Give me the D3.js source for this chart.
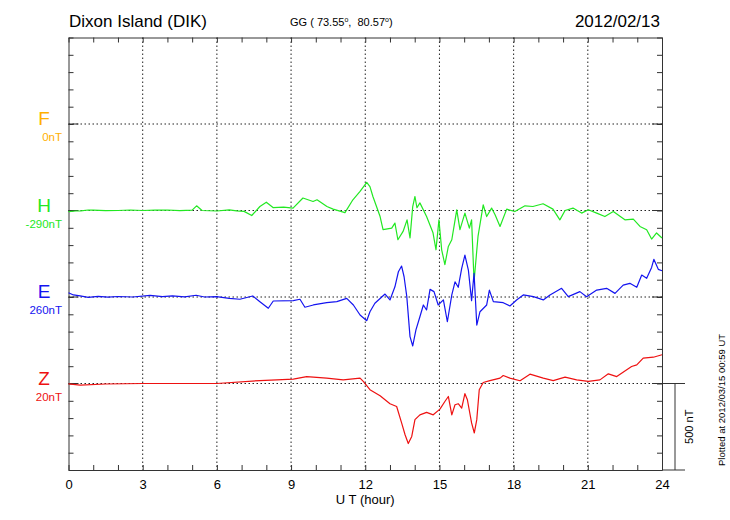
<!DOCTYPE html>
<html>
<head>
<meta charset="utf-8">
<script src="https://cdn.jsdelivr.net/npm/d3@7"></script>
<style>
  body { margin: 0; background: #fff; }
  svg { font-family: "Liberation Sans", Arial, sans-serif; }
</style>
</head>
<body>
<div id="chart"></div>
<script>
// Componentes y etiquetas de la línea base
var components = ["F", "H", "E", "Z"];
var baseLabels = ["0nT", "-290nT", "260nT", "20nT"];
var compColors = ["#ffb000", "#22e822", "#1414f0", "#ee1111"];
var baseOffsets = [2000, 1500, 1000, 500];   // posición de cada componente (nT)
var hourTicks = [0, 3, 6, 9, 12, 15, 18, 21, 24];

// Datos: [hora UT, desviación nT]
var hTrace = [[0,-6],[0.3,-3],[0.5,-2],[0.8,3],[1,2],[1.5,-1],[2,0],[2.5,3],[3,0],[3.5,2],[4,3],[4.5,-1],
  [5.0,2],[5.18,27],[5.4,0],[6,-3],[6.5,4],[6.8,-2],[7.1,-5],[7.41,-29],
  [7.74,23],[8.0,48],[8.27,17],[8.7,20],[9.08,14],[9.48,72],[9.89,52],[10.05,62],[10.45,23],[10.7,8],
  [11.18,-12],[11.5,62],[11.79,110],[12.06,162],[12.19,138],[12.31,81],[12.6,-35],[12.72,-111],
  [13.07,-102],[13.2,-73],[13.32,-169],[13.53,-121],[13.69,-54],[13.81,-158],[13.92,23],[14.01,81],
  [14.09,16],[14.21,44],[14.48,-35],[14.74,-129],[14.86,-227],[14.98,-54],[15.09,-227],[15.22,-313],
  [15.36,-208],[15.5,-169],[15.7,4],[15.83,-111],[16.03,-15],[16.21,-102],[16.3,-54],[16.4,-410],
  [16.56,-150],[16.77,33],[16.91,-35],[17.11,14],[17.25,-25],[17.45,-92],[17.72,8],[18.05,-6],
  [18.46,27],[18.78,23],[19.19,39],[19.59,8],[19.87,-54],[20.08,0],[20.4,14],[20.75,-15],[21.02,4],
  [21.36,-15],[21.69,-35],[22.03,-6],[22.5,-54],[22.84,-50],[23.11,-92],[23.38,-111],[23.58,-165],
  [23.78,-130],[24,-159]];

var eTrace = [[0,25],[0.2,12],[0.47,6],[0.8,-2],[1.2,4],[1.6,-1],[2,3],[2.6,0],[3.3,9],[3.8,2],[4.2,6],
  [4.7,1],[5.16,10],[5.5,0],[5.99,2],[6.5,-8],[6.93,-13],[7.45,6],
  [7.74,-27],[8.08,-65],[8.28,-23],[9.09,-21],[9.36,-13],[9.56,-59],[9.9,-46],[10.44,-33],[10.85,-27],
  [11.25,-8],[11.52,-46],[11.79,-104],[12.06,-137],[12.19,-85],[12.39,-36],[12.8,17],[13.0,-17],
  [13.2,59],[13.34,146],[13.47,179],[13.57,117],[13.68,2],[13.81,-229],[13.92,-283],[14.05,-190],
  [14.21,-114],[14.35,-46],[14.48,-75],[14.62,44],[14.78,31],[14.95,-46],[15.16,-17],[15.32,-143],
  [15.5,12],[15.63,88],[15.76,56],[15.9,166],[16.03,242],[16.17,156],[16.3,-21],[16.4,137],[16.51,-162],
  [16.64,-85],[16.91,-46],[17.02,40],[17.18,-27],[17.58,-33],[17.85,-52],[18.12,-17],[18.39,12],
  [18.8,2],[19.2,-17],[19.47,12],[19.94,50],[20.21,2],[20.68,31],[20.95,2],[21.36,40],[21.76,50],
  [22.1,21],[22.43,69],[22.7,79],[22.98,56],[23.18,127],[23.38,108],[23.58,171],[23.67,218],
  [23.85,160],[24,152]];

var zTrace = [[0,-2],[0.47,-9],[1.5,-3],[3,0],[6,0],[7.74,17],[9.09,25],[9.63,40],[10.44,31],[11.11,21],
  [11.79,31],[11.92,12],[12.19,-36],[12.6,-71],[13.0,-117],[13.27,-133],[13.47,-228],[13.61,-296],
  [13.74,-347],[13.88,-306],[14.01,-209],[14.21,-181],[14.48,-167],[14.75,-181],[15.02,-148],
  [15.22,-104],[15.36,-75],[15.5,-181],[15.63,-123],[15.76,-117],[15.9,-142],[16.03,-59],[16.13,-94],
  [16.3,-228],[16.41,-286],[16.51,-209],[16.61,-36],[16.77,6],[17.04,17],[17.45,31],[17.58,46],
  [17.85,31],[18.26,16],[18.66,54],[19.2,31],[19.6,17],[20.08,37],[20.55,21],[21.02,12],[21.49,21],
  [21.83,56],[22.17,40],[22.77,98],[22.98,108],[23.24,147],[23.65,152],[24,166]];

var traces = [null, hTrace, eTrace, zTrace];

var width = 730, height = 520;
var svg = d3.select("#chart").append("svg")
    .attr("width", width)
    .attr("height", height);

var x = d3.scaleLinear().domain([0, 24]).range([68.5, 662]);
var y = d3.scaleLinear().domain([0, 2500]).range([470, 37.5]);

// Rejilla punteada vertical (cada 3 horas)
svg.append("g").selectAll("line")
    .data(hourTicks.slice(1, -1))
    .enter().append("line")
    .attr("x1", d => x(d)).attr("x2", d => x(d))
    .attr("y1", y(2500)).attr("y2", y(0))
    .attr("stroke", "#222").attr("stroke-width", 1)
    .attr("stroke-dasharray", "1.5,2.5");

// Líneas base punteadas
svg.append("g").selectAll("line")
    .data(baseOffsets)
    .enter().append("line")
    .attr("x1", x(0)).attr("x2", x(24))
    .attr("y1", d => y(d)).attr("y2", d => y(d))
    .attr("stroke", "#222").attr("stroke-width", 1)
    .attr("stroke-dasharray", "1.5,2.5");

// Ejes (marcas hacia dentro)
var nTicks = d3.range(0, 2501, 100);
var hours = d3.range(0, 25, 1);

function styleAxis(g) {
    g.selectAll("path").attr("stroke", "#333");
    g.selectAll("line").attr("stroke", "#333");
}

svg.append("g").attr("transform", "translate(0," + y(0) + ")")
    .call(d3.axisBottom(x).tickValues(hours).tickSize(-5).tickSizeOuter(0).tickFormat(""))
    .call(styleAxis);
svg.append("g").attr("transform", "translate(0," + y(2500) + ")")
    .call(d3.axisTop(x).tickValues(hours).tickSize(-5).tickSizeOuter(0).tickFormat(""))
    .call(styleAxis);
svg.append("g").attr("transform", "translate(" + x(0) + ",0)")
    .call(d3.axisLeft(y).tickValues(nTicks).tickSize(-5).tickSizeOuter(0).tickFormat(""))
    .call(styleAxis);
svg.append("g").attr("transform", "translate(" + x(24) + ",0)")
    .call(d3.axisRight(y).tickValues(nTicks).tickSize(-5).tickSizeOuter(0).tickFormat(""))
    .call(styleAxis);

// Marcas mayores en las líneas base
svg.append("g").selectAll("line")
    .data(baseOffsets)
    .enter().append("line")
    .attr("x1", x(0)).attr("x2", x(0) + 10)
    .attr("y1", d => y(d)).attr("y2", d => y(d))
    .attr("stroke", "#333");
svg.append("g").selectAll("line")
    .data(baseOffsets)
    .enter().append("line")
    .attr("x1", x(24) - 10).attr("x2", x(24))
    .attr("y1", d => y(d)).attr("y2", d => y(d))
    .attr("stroke", "#333");

// Etiquetas del eje X
var xLab = svg.append("g")
    .attr("transform", "translate(0," + y(0) + ")")
    .call(d3.axisBottom(x).tickValues(hourTicks).tickSize(0).tickPadding(10));
xLab.select(".domain").remove();
xLab.selectAll("text")
    .attr("font-family", "Liberation Sans, Arial, sans-serif")
    .attr("font-size", 13).attr("fill", "#000");

svg.append("text")
    .attr("x", (x(0) + x(24)) / 2).attr("y", 504)
    .attr("text-anchor", "middle").attr("font-size", 13)
    .text("U T (hour)");

// Trazas
var line = d3.line()
    .x(d => x(d[0]))
    .y(d => y(d[1]));

components.forEach(function (c, i) {
    if (traces[i]) {
        svg.append("path")
            .datum(traces[i].map(p => [p[0], baseOffsets[i] + p[1]]))
            .attr("d", line)
            .attr("fill", "none")
            .attr("stroke", compColors[i])
            .attr("stroke-width", 1.2)
            .attr("stroke-linejoin", "round");
    }
    svg.append("text")
        .attr("x", 44).attr("y", y(baseOffsets[i]) + 1)
        .attr("text-anchor", "middle")
        .attr("font-size", 19).attr("fill", compColors[i])
        .text(c);
    svg.append("text")
        .attr("x", 62).attr("y", y(baseOffsets[i]) + 17)
        .attr("text-anchor", "end")
        .attr("font-size", 11.5).attr("fill", compColors[i])
        .text(baseLabels[i]);
});

// Barra de escala 500 nT
var sx = x(24);
svg.append("line").attr("x1", sx).attr("x2", sx + 23)
    .attr("y1", y(500)).attr("y2", y(500)).attr("stroke", "#333");
svg.append("line").attr("x1", sx).attr("x2", sx + 23)
    .attr("y1", y(0)).attr("y2", y(0)).attr("stroke", "#333");
svg.append("line").attr("x1", sx + 13).attr("x2", sx + 13)
    .attr("y1", y(500)).attr("y2", y(0)).attr("stroke", "#333");
svg.append("text")
    .attr("transform", "translate(" + (sx + 31) + "," + y(250) + ") rotate(-90)")
    .attr("text-anchor", "middle").attr("font-size", 11)
    .text("500 nT");

svg.append("text")
    .attr("transform", "translate(725,466) rotate(-90)")
    .attr("text-anchor", "start").attr("font-size", 9.5)
    .text("Plotted at 2012/03/15 00:59 UT");

// Título
svg.append("text")
    .attr("x", 69).attr("y", 27).attr("font-size", 17)
    .text("Dixon Island (DIK)");
var gg = svg.append("text")
    .attr("x", 290).attr("y", 26).attr("font-size", 11);
gg.append("tspan").text("GG ( 73.55");
gg.append("tspan").attr("font-size", 7).attr("dy", -4).text("o");
gg.append("tspan").attr("dy", 4).text(",\u00a0 80.57");
gg.append("tspan").attr("font-size", 7).attr("dy", -4).text("o");
gg.append("tspan").attr("dy", 4).text(")");
svg.append("text")
    .attr("x", 660).attr("y", 27).attr("text-anchor", "end").attr("font-size", 17)
    .text("2012/02/13");
</script>
</body>
</html>
